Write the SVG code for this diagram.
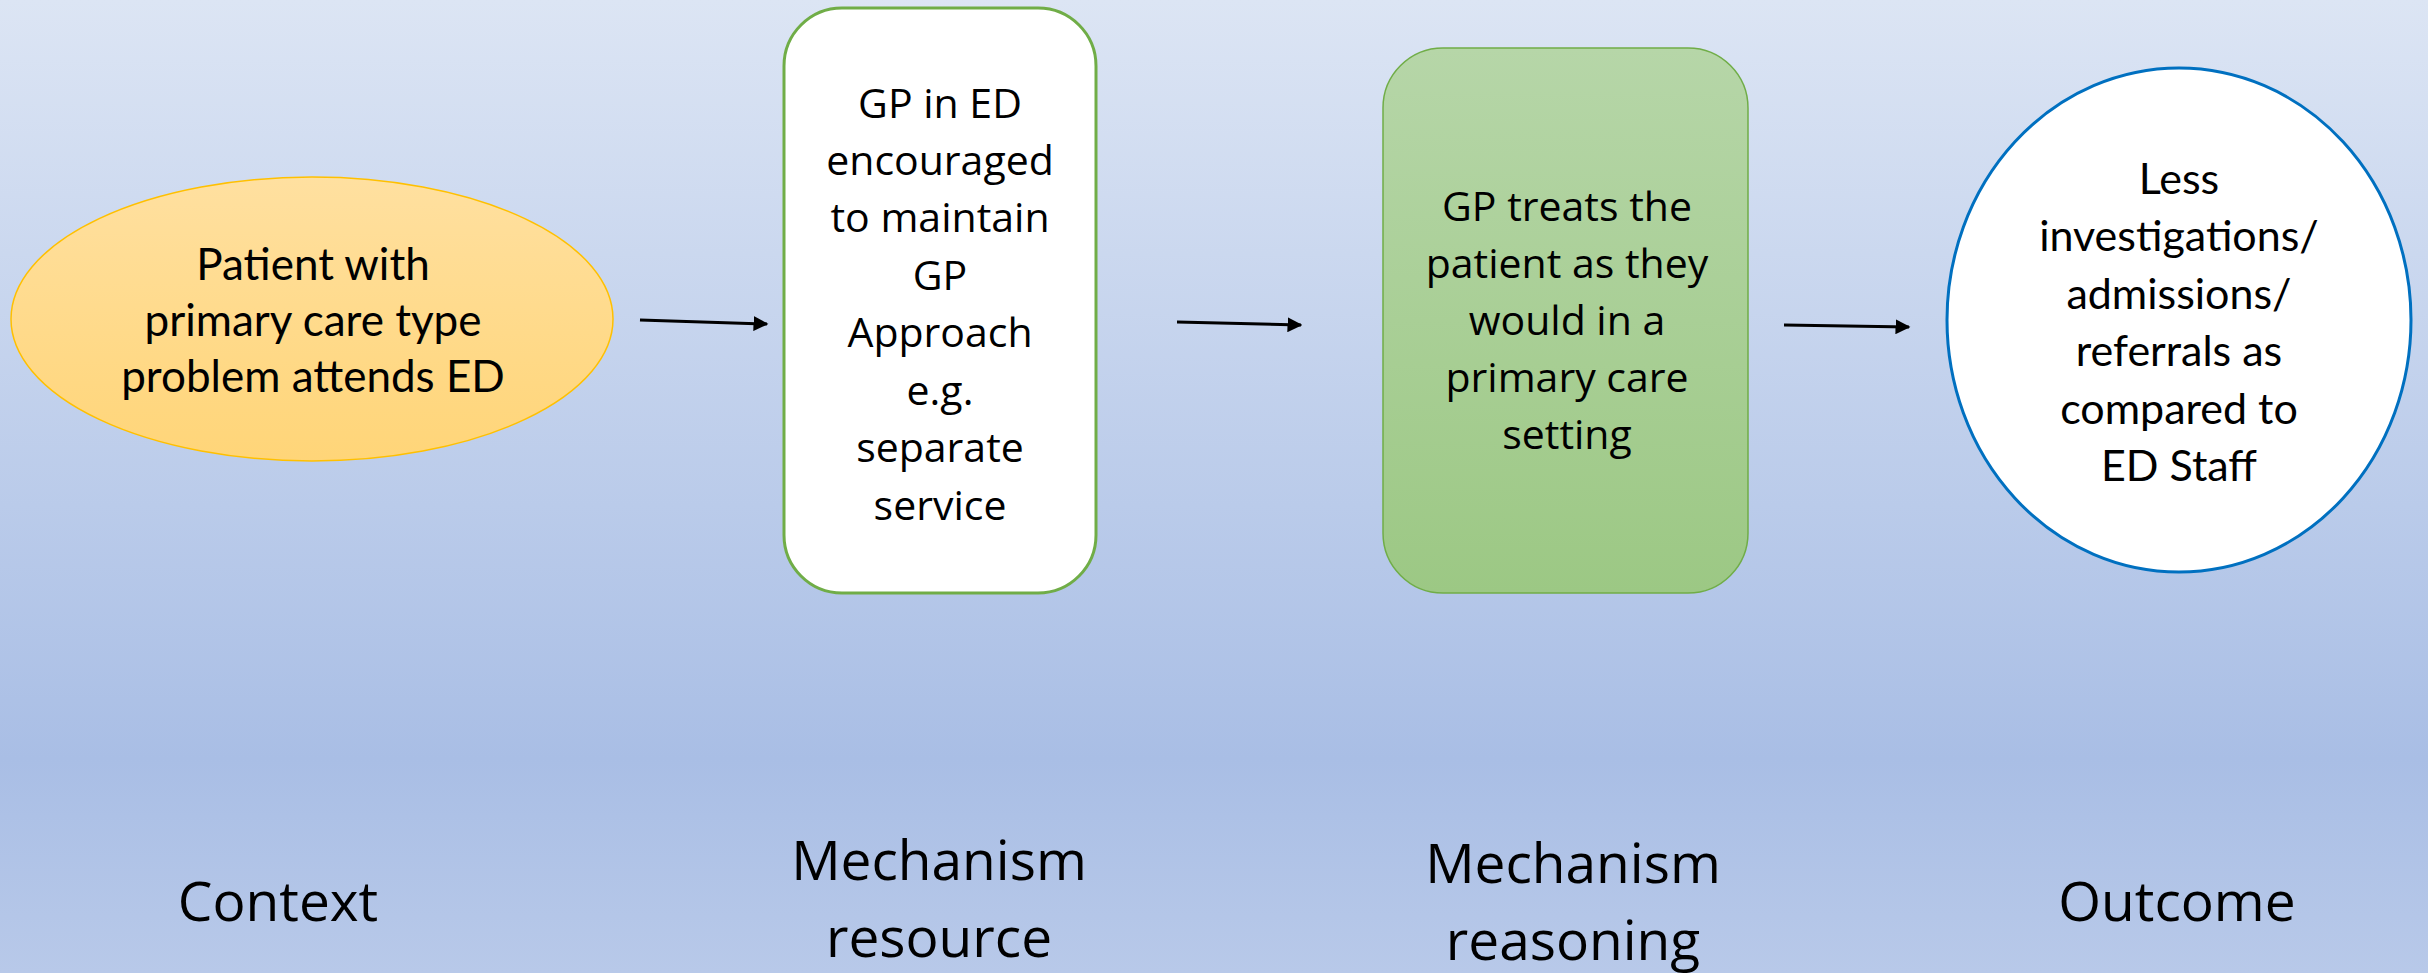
<svg xmlns="http://www.w3.org/2000/svg" width="2428" height="973" viewBox="0 0 2428 973">
<defs>
<linearGradient id="bg" x1="0" y1="0" x2="0" y2="1">
<stop offset="0" stop-color="#DCE5F4"/>
<stop offset="0.78" stop-color="#A9BEE5"/>
<stop offset="1" stop-color="#B8C9E9"/>
</linearGradient>
<linearGradient id="gold" x1="0" y1="0" x2="0" y2="1">
<stop offset="0" stop-color="#FFE0A0"/>
<stop offset="1" stop-color="#FFD578"/>
</linearGradient>
<linearGradient id="green" x1="0" y1="0" x2="0" y2="1">
<stop offset="0" stop-color="#B6D6A8"/>
<stop offset="1" stop-color="#9CC884"/>
</linearGradient>
<marker id="arr" viewBox="0 0 10 10" refX="9" refY="5" markerWidth="5" markerHeight="5" orient="auto" markerUnits="strokeWidth">
<path d="M0,0 L10,5 L0,10 Z" fill="#000"/>
</marker>
</defs>
<style>
.t1{font-family:Lato,"Liberation Sans",sans-serif;font-size:44px;fill:#000;text-anchor:middle}
.t1b{font-family:Lato,"Liberation Sans",sans-serif;font-size:43px;fill:#000;text-anchor:middle}
.t2{font-family:"Open Sans","Liberation Sans",sans-serif;font-size:41px;fill:#000;text-anchor:middle}
.lb{font-family:"Open Sans","Liberation Sans",sans-serif;font-size:55px;fill:#000;text-anchor:middle}
.conn{stroke:#000;stroke-width:3;fill:none}
</style>
<rect x="0" y="0" width="2428" height="973" fill="url(#bg)"/>

<g id="context">
<ellipse cx="312" cy="319" rx="301" ry="142" fill="url(#gold)" stroke="#FFC000" stroke-width="1.5"/>
<text class="t1" x="313" y="280">Patient with</text>
<text class="t1" x="313" y="336">primary care type</text>
<text class="t1" x="313" y="392">problem attends ED</text>
</g>

<g id="mechanism-resource">
<rect x="784" y="8" width="312" height="585" rx="58" ry="58" fill="#FFFFFF" stroke="#70AD47" stroke-width="3"/>
<text class="t2" x="940" y="118">GP in ED</text>
<text class="t2" x="940" y="175">encouraged</text>
<text class="t2" x="940" y="232">to maintain</text>
<text class="t2" x="940" y="290">GP</text>
<text class="t2" x="940" y="347">Approach</text>
<text class="t2" x="940" y="405">e.g.</text>
<text class="t2" x="940" y="462">separate</text>
<text class="t2" x="940" y="520">service</text>
</g>

<g id="mechanism-reasoning">
<rect x="1383" y="48" width="365" height="545" rx="60" ry="60" fill="url(#green)" stroke="#70AD47" stroke-width="1.5"/>
<text class="t2" x="1567" y="221">GP treats the</text>
<text class="t2" x="1567" y="278">patient as they</text>
<text class="t2" x="1567" y="335">would in a</text>
<text class="t2" x="1567" y="392">primary care</text>
<text class="t2" x="1567" y="449">setting</text>
</g>

<g id="outcome">
<ellipse cx="2179" cy="320" rx="232" ry="252" fill="#FFFFFF" stroke="#0070C0" stroke-width="3"/>
<text class="t1b" x="2179" y="194">Less</text>
<text class="t1b" x="2179" y="251">investigations/</text>
<text class="t1b" x="2179" y="309">admissions/</text>
<text class="t1b" x="2179" y="366">referrals as</text>
<text class="t1b" x="2179" y="424">compared to</text>
<text class="t1b" x="2179" y="481">ED Staff</text>
</g>

<g id="connectors">
<line class="conn" x1="640" y1="320" x2="767" y2="324" marker-end="url(#arr)"/>
<line class="conn" x1="1177" y1="322" x2="1301" y2="325" marker-end="url(#arr)"/>
<line class="conn" x1="1784" y1="325" x2="1909" y2="327" marker-end="url(#arr)"/>
</g>

<g id="labels">
<text class="lb" x="278" y="921">Context</text>
<text class="lb" x="939" y="880">Mechanism</text>
<text class="lb" x="939" y="957">resource</text>
<text class="lb" x="1573" y="883">Mechanism</text>
<text class="lb" x="1573" y="960">reasoning</text>
<text class="lb" x="2177" y="921">Outcome</text>
</g>
</svg>
